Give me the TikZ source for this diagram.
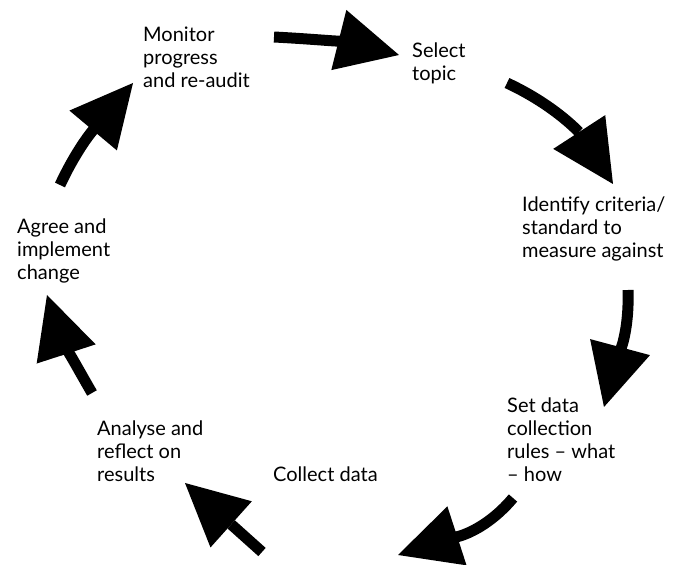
\documentclass[tikz,border=0pt]{standalone}
\usepackage{fontspec}
\setmainfont{Lato}
\usetikzlibrary{arrows.meta}
\tikzstyle{stagetext} = [anchor=north west, inner sep=0pt, align=left, font=\fontsize{20}{23}\selectfont]
\tikzstyle{cyclearrow} = [draw, line width=11pt, -{Triangle[length=62pt, width=62pt, line width=0pt]}]

\begin{document}
\begin{tikzpicture}[x=1pt, y=1pt]
\useasboundingbox (0,0) rectangle (689,565);

%% stages of the cycle
\node[stagetext] at (143,538) (monitor) {Monitor\\progress\\and re-audit};
\node[stagetext] at (412,522) (select) {Select\\topic};
\node[stagetext] at (522,368) (identify) {Identify criteria/\\standard to\\measure against};
\node[stagetext] at (507,167) (setrules) {Set data\\collection\\rules -- what\\-- how};
\node[stagetext] at (273,98) (collect) {Collect data};
\node[stagetext] at (97,144) (analyse) {Analyse and\\reflect on\\results};
\node[stagetext] at (17,346) (agree) {Agree and\\implement\\change};

%% arrow ends
\coordinate (monitor-out) at (274,528);
\coordinate (select-in) at (399,510);
\coordinate (select-out) at (507,482);
\coordinate (identify-in) at (613,381);
\coordinate (identify-out) at (628,275);
\coordinate (setrules-in) at (604,158);
\coordinate (setrules-out) at (513,67);
\coordinate (collect-in) at (398,10);
\coordinate (collect-out) at (262,13);
\coordinate (analyse-in) at (185,82);
\coordinate (analyse-out) at (92,172);
\coordinate (agree-in) at (47,270);
\coordinate (agree-out) at (60,380);
\coordinate (monitor-in) at (133,482);

%% arrows
\path[cyclearrow] (monitor-out) to[out=-3, in=166] (select-in);
\path[cyclearrow] (select-out) to[out=-25, in=123] (identify-in);
\path[cyclearrow] (identify-out) to[out=-88, in=75] (setrules-in);
\path[cyclearrow] (setrules-out) to[out=230, in=18] (collect-in);
\path[cyclearrow] (collect-out) -- (analyse-in);
\path[cyclearrow] (analyse-out) to[out=120, in=-72] (agree-in);
\path[cyclearrow] (agree-out) to[out=65, in=230] (monitor-in);

\end{tikzpicture}
\end{document}
